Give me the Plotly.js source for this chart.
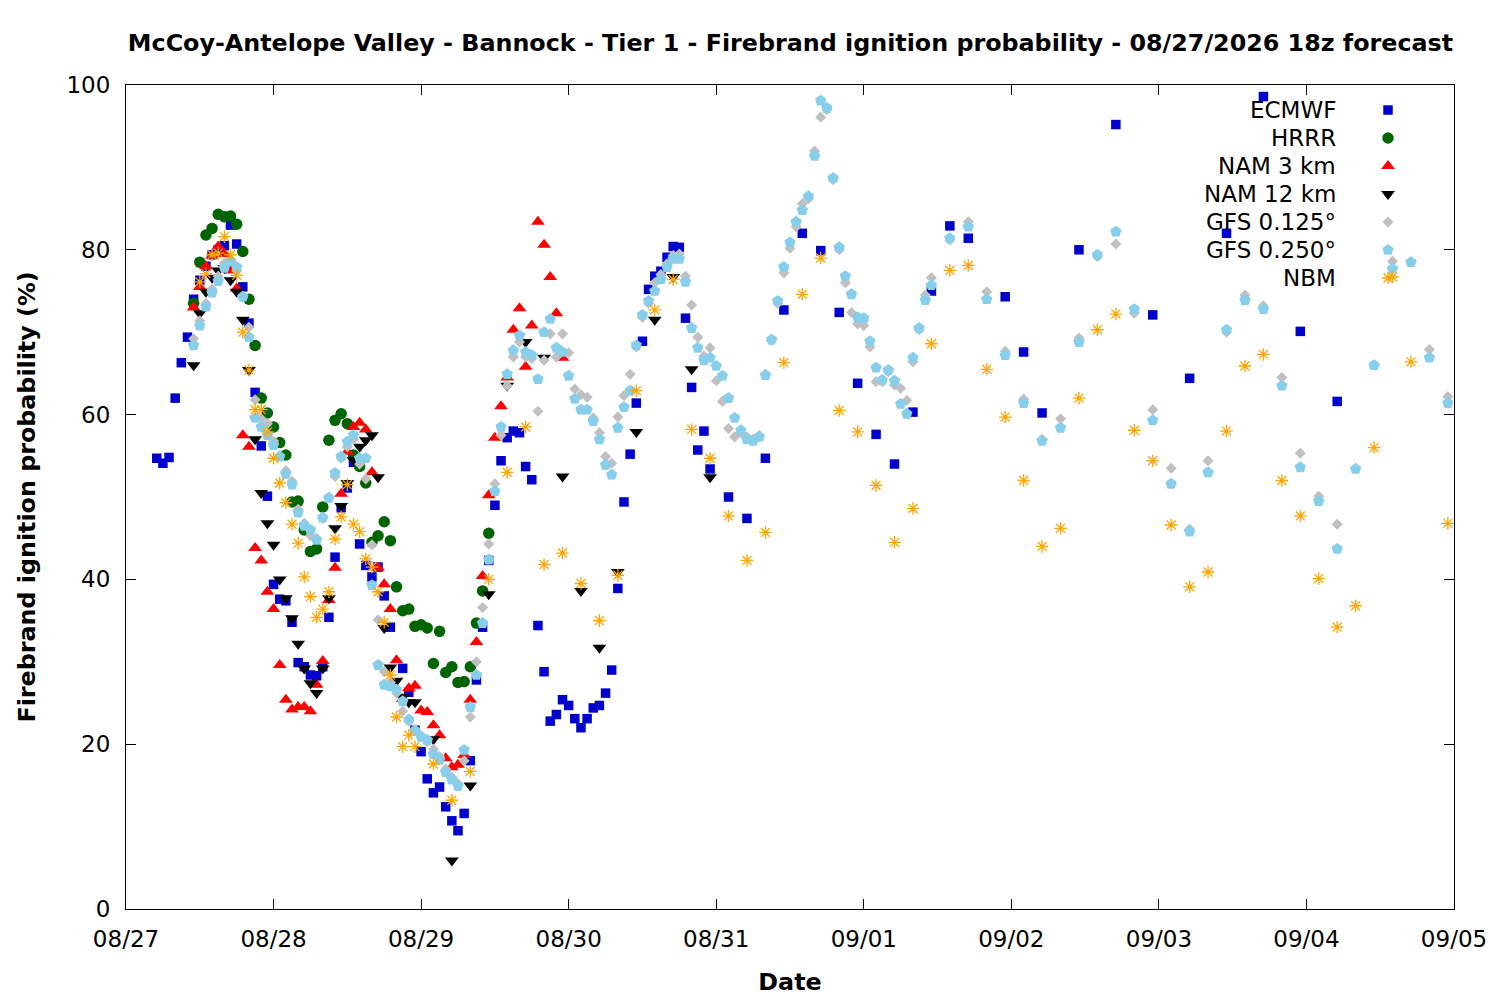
<!DOCTYPE html>
<html>
<head>
<meta charset="utf-8">
<script src="https://cdn.plot.ly/plotly-3.0.1.min.js"></script>
<style>html,body{margin:0;padding:0;background:#fff;}#chart{width:1500px;height:1000px;}</style>
</head>
<body>
<div id="chart"></div>
<script>
// Hours after 2026-08-27 00:00 and firebrand ignition probability (%)
function span(a, b, step) { var out = []; for (var h = a; h <= b; h += step) out.push(h); return out; }

var ecmwfHours = [5,6,7,8,9,10,11,12,13,14,15,16,17,18,19,20,21,22,23,24,25,26,27,28,29,30,31,32,33,34,35,36,37,38,39,40,41,42,43,45,46,47,48,49,50,51,52,53,54,55,56,57,58,59,60,61,62,63,64,65,66,67,68,69,70,71,72,73,74,75,76,77,78,79,80,81,82,83,84,85,86,87,88,89,90,91,92,93,94,95,98,101,104,107,110,113,116,119,122,125,128,131,134,137,143,146,149,155,161,167,173,179,185,191,197];
var ecmwfValues = [54.7,54.1,54.8,62.0,66.3,69.4,74.0,76.3,78.0,79.4,80.0,80.5,83.0,80.7,75.5,71.1,62.7,56.2,50.1,39.4,37.6,37.4,34.8,29.9,29.4,28.4,28.3,29.4,35.4,42.7,48.7,51.1,54.2,44.3,41.7,40.3,41.5,38.0,34.2,29.2,26.3,21.7,19.1,15.8,14.1,14.8,12.4,10.7,9.5,11.6,18.0,27.8,34.2,42.3,49.0,54.4,57.2,58.0,57.8,53.7,52.1,34.4,28.8,22.8,23.6,25.4,24.7,23.1,22.0,23.1,24.4,24.7,26.2,29.0,38.9,49.4,55.2,61.4,68.9,75.2,76.8,77.4,79.1,80.4,80.3,71.7,63.3,55.7,58.0,53.4,50.0,47.4,54.7,72.7,82.0,79.9,72.4,63.8,57.6,54.0,60.3,75.0,82.9,81.4,74.3,67.6,60.2,80.0,95.2,72.1,64.4,82.0,98.6,70.1,61.6];

var hrrrHours = span(11, 59, 1);
var hrrrValues = [73.5,78.5,81.8,82.6,84.3,84.0,84.1,83.1,79.8,74.0,
  68.4,62.0,60.2,58.5,56.6,55.1,49.4,49.5,46.0,43.4,
  43.7,48.8,56.9,59.3,60.1,58.9,55.1,53.7,51.7,44.5,
  45.3,47.0,44.7,39.1,36.2,36.4,34.3,34.5,34.1,29.8,
  33.7,28.7,29.4,27.5,27.6,29.4,34.7,38.6,45.6];

var nam3Hours = span(11, 71, 1);
var nam3Values = [73.0,75.5,78.0,79.3,80.4,79.5,77.5,75.3,57.5,56.1,
  43.8,42.3,38.5,36.4,29.6,25.4,24.2,24.5,24.5,24.0,
  27.2,30.1,37.5,41.4,50.4,55.5,58.5,59.0,58.2,53.0,
  41.4,39.4,36.4,30.2,25.5,26.8,27.1,24.1,23.9,22.3,
  21.1,18.3,17.2,17.5,18.7,25.4,32.4,40.4,50.2,57.2,
  61.0,64.5,70.3,72.9,65.8,70.8,83.4,80.6,76.7,72.3,
  66.9];

var nam12Hours = span(11, 47, 1).concat(span(50, 95, 3));
var nam12Values = [66.0,72.3,74.9,76.6,77.5,77.8,76.3,74.9,71.5,65.4,
  57.0,50.5,46.8,44.2,40.0,37.7,35.3,32.2,29.2,27.4,
  26.2,29.2,37.7,46.2,48.9,51.7,54.5,56.1,56.9,57.5,
  52.4,34.1,29.3,27.7,25.7,25.1,25.1,
  20.6,5.9,15.0,38.2,63.5,68.8,66.9,52.5,38.6,31.7,40.9,57.9,71.5,76.7,65.5,52.4];

var gfs125Hours = span(11, 131, 1).concat(span(134, 215, 3));
var gfs125Values = [69.2,71.4,73.5,75.2,76.8,78.4,78.8,77.5,74.2,70.6,
  61.8,59.5,58.9,56.8,55.0,53.2,51.9,48.5,46.8,45.3,
  45.0,47.4,49.9,52.5,54.7,56.1,57.0,54.0,52.2,44.2,
  35.1,28.8,27.5,26.2,24.0,22.8,21.8,21.0,20.3,19.4,
  18.5,17.0,16.0,15.2,18.0,23.3,30.0,36.6,44.3,51.6,
  57.5,63.5,67.0,68.8,67.0,66.8,60.4,66.6,69.8,67.0,
  69.8,67.5,63.1,62.4,62.1,59.6,57.8,54.9,54.1,59.7,
  62.3,64.9,68.2,71.8,73.5,76.0,77.0,78.3,79.3,79.5,
  76.8,73.3,69.4,67.1,68.1,64.1,61.6,58.3,57.3,57.8,
  57.3,57.0,57.5,64.9,69.0,73.5,77.2,80.2,82.8,85.6,
  86.2,92.0,96.1,97.0,88.5,80.0,76.0,72.4,71.0,70.8,
  68.2,64.0,64.0,65.2,63.6,63.2,61.7,66.4,70.3,74.5,
  76.6,
  81.2,83.4,74.9,67.7,61.9,57.0,59.5,69.3,79.2,80.7,72.3,60.6,53.5,46.1,
  54.4,70.0,74.5,73.2,64.5,55.3,50.1,46.7,53.5,66.0,78.6,78.5,67.9,62.2];

var gfs250Hours = span(11, 131, 1).concat(span(134, 215, 3));
var gfs250Values = [68.4,70.8,73.1,74.8,76.2,77.8,78.6,77.9,74.3,69.4,
  59.6,58.5,57.5,56.3,54.9,52.8,51.5,48.1,46.5,46.0,
  44.8,47.5,49.9,52.9,54.9,56.7,57.5,54.7,54.7,39.3,
  29.6,27.2,27.0,26.6,25.2,23.0,21.6,20.9,20.5,18.8,
  18.1,16.6,15.7,14.9,19.3,24.5,28.4,34.7,42.4,50.7,
  58.5,64.9,67.8,69.6,67.6,67.2,64.3,70.0,71.6,68.1,
  67.6,64.7,61.9,60.6,60.6,59.2,57.0,53.9,52.7,58.4,
  60.9,62.9,68.4,72.1,73.8,75.0,76.4,77.9,78.9,78.9,
  76.1,70.5,68.1,66.6,66.9,65.9,64.7,62.0,59.6,58.1,
  57.0,56.8,57.3,64.8,69.1,73.8,77.9,80.9,83.4,84.8,
  86.5,91.4,98.1,97.2,88.7,80.3,76.8,74.6,71.8,71.7,
  68.9,65.7,64.2,65.4,64.1,61.3,60.1,66.9,70.5,73.9,
  75.7,
  81.4,82.8,74.0,67.2,61.4,56.8,58.4,68.8,79.4,82.2,72.8,59.3,51.6,45.8,
  53.0,70.3,73.9,72.8,63.5,53.6,49.5,43.7,53.4,66.0,77.7,78.5,66.9,61.4];

var nbmHours = span(12, 47, 1).concat(span(50, 209, 3)).concat([215]);
var nbmValues = [76.1,77.1,79.4,79.6,81.6,79.4,76.9,70.0,65.4,60.6,
  60.6,57.9,54.7,51.7,49.3,46.7,44.4,40.3,37.9,35.4,
  36.4,38.5,44.9,47.6,51.5,46.7,45.8,42.5,41.5,38.5,
  34.8,28.4,23.3,19.7,21.1,19.7,
  17.6,13.2,16.7,40.0,53.0,58.5,41.8,43.2,39.5,35.0,
  40.5,62.9,72.7,76.4,58.2,54.7,47.7,42.3,45.7,66.3,
  74.6,79.0,60.5,57.9,51.4,44.5,48.6,68.6,77.5,78.1,
  65.5,59.7,52.0,44.0,46.2,62.0,70.3,72.2,58.1,54.4,
  46.6,39.1,40.9,58.0,65.9,67.3,52.0,47.7,40.1,34.2,
  36.8,56.0,76.7,66.4,
  46.8];

var seriesNames = ['ECMWF', 'HRRR', 'NAM 3 km', 'NAM 12 km', 'GFS 0.125°', 'GFS 0.250°', 'NBM'];
var xTickLabels = ['08/27','08/28','08/29','08/30','08/31','09/01','09/02','09/03','09/04','09/05'];

var BASE = Date.UTC(2026, 7, 27, 0, 0, 0);
var HOUR = 3600000, DAY = 86400000;
function toTime(hours) { return hours.map(function (h) { return BASE + h * HOUR; }); }

var styles = [
  {symbol: 'square', color: '#0000cc', size: 9.5},
  {symbol: 'circle', color: '#006400', size: 11.5},
  {symbol: 'triangle-up', color: '#ff0000', size: 12},
  {symbol: 'triangle-down', color: '#000000', size: 12},
  {symbol: 'diamond', color: '#c0c0c0', size: 8.5},
  {symbol: 'pentagon', color: '#87ceeb', size: 12},
  {symbol: 'asterisk-open', color: '#ffa500', size: 10.5, lw: 1.3}
];
var hoursList = [ecmwfHours, hrrrHours, nam3Hours, nam12Hours, gfs125Hours, gfs250Hours, nbmHours];
var valuesList = [ecmwfValues, hrrrValues, nam3Values, nam12Values, gfs125Values, gfs250Values, nbmValues];

// legend keys: symbols come from Plotly's legend (placed right), labels are right-aligned text to their left
var traces = seriesNames.map(function (name, i) {
  var s = styles[i];
  return {
    type: 'scatter', mode: 'markers', name: ' ', legendgroup: name,
    x: toTime(hoursList[i]), y: valuesList[i],
    marker: {symbol: s.symbol, color: s.color, size: s.size,
             line: {width: s.lw || 0, color: s.color}}
  };
});

var tickVals = xTickLabels.map(function (t, i) { return BASE + i * DAY; });
var FONT = 'DejaVu Sans, Liberation Sans, sans-serif';

var PLOT_TOP = 85, PLOT_H = 824, PLOT_L = 126, PLOT_W = 1328;
var LEG_FIRST = 110, LEG_STEP = 28, LEG_TEXT_RIGHT = 1338, LEG_SYMBOL_LEFT = 1368;
var legendLabels = seriesNames.map(function (name, i) {
  return {
    text: name, showarrow: false, xref: 'paper', yref: 'paper',
    x: (LEG_TEXT_RIGHT - PLOT_L) / PLOT_W, xanchor: 'right',
    y: (PLOT_TOP + PLOT_H - (LEG_FIRST + LEG_STEP * i)) / PLOT_H, yanchor: 'middle',
    font: {family: FONT, size: 23, color: '#000'}
  };
});

var layout = {
  width: 1500, height: 1000,
  paper_bgcolor: '#ffffff', plot_bgcolor: '#ffffff',
  margin: {l: PLOT_L, r: 46, t: PLOT_TOP, b: 91},
  font: {family: FONT, size: 23, color: '#000'},
  title: {
    text: 'McCoy-Antelope Valley - Bannock - Tier 1 - Firebrand ignition probability - 08/27/2026 18z forecast',
    font: {family: FONT, size: 23.8, weight: 'bold', color: '#000'},
    xref: 'container', x: 0.527, xanchor: 'center',
    yref: 'container', y: 0.957, yanchor: 'middle'
  },
  xaxis: {
    type: 'date', range: [tickVals[0], tickVals[tickVals.length - 1]],
    tickmode: 'array', tickvals: tickVals, ticktext: xTickLabels,
    ticks: 'inside', ticklen: 10, tickcolor: '#000', tickwidth: 1,
    mirror: 'allticks', showline: true, linecolor: '#000', linewidth: 1,
    showgrid: false, zeroline: false, ticklabelstandoff: 9,
    tickfont: {family: FONT, size: 23, color: '#000'},
    title: {text: 'Date', font: {family: FONT, size: 23.8, weight: 'bold', color: '#000'}, standoff: 22}
  },
  yaxis: {
    range: [0, 100], dtick: 20, tick0: 0,
    ticks: 'inside', ticklen: 10, tickcolor: '#000', tickwidth: 1,
    mirror: 'allticks', showline: true, linecolor: '#000', linewidth: 1,
    showgrid: false, zeroline: false, ticklabelstandoff: 10,
    tickfont: {family: FONT, size: 23, color: '#000'},
    title: {text: 'Firebrand ignition probability (%)', font: {family: FONT, size: 23.8, weight: 'bold', color: '#000'}, standoff: 24}
  },
  showlegend: true,
  legend: {
    x: (LEG_SYMBOL_LEFT - PLOT_L) / PLOT_W, xanchor: 'left', y: 0.9927, yanchor: 'top',
    bgcolor: 'rgba(0,0,0,0)', borderwidth: 0,
    font: {family: FONT, size: 19.23, color: '#000'},
    itemsizing: 'trace', tracegroupgap: 0
  },
  annotations: legendLabels,
  hovermode: false
};

Plotly.newPlot('chart', traces, layout, {displayModeBar: false, staticPlot: true});
</script>
</body>
</html>
